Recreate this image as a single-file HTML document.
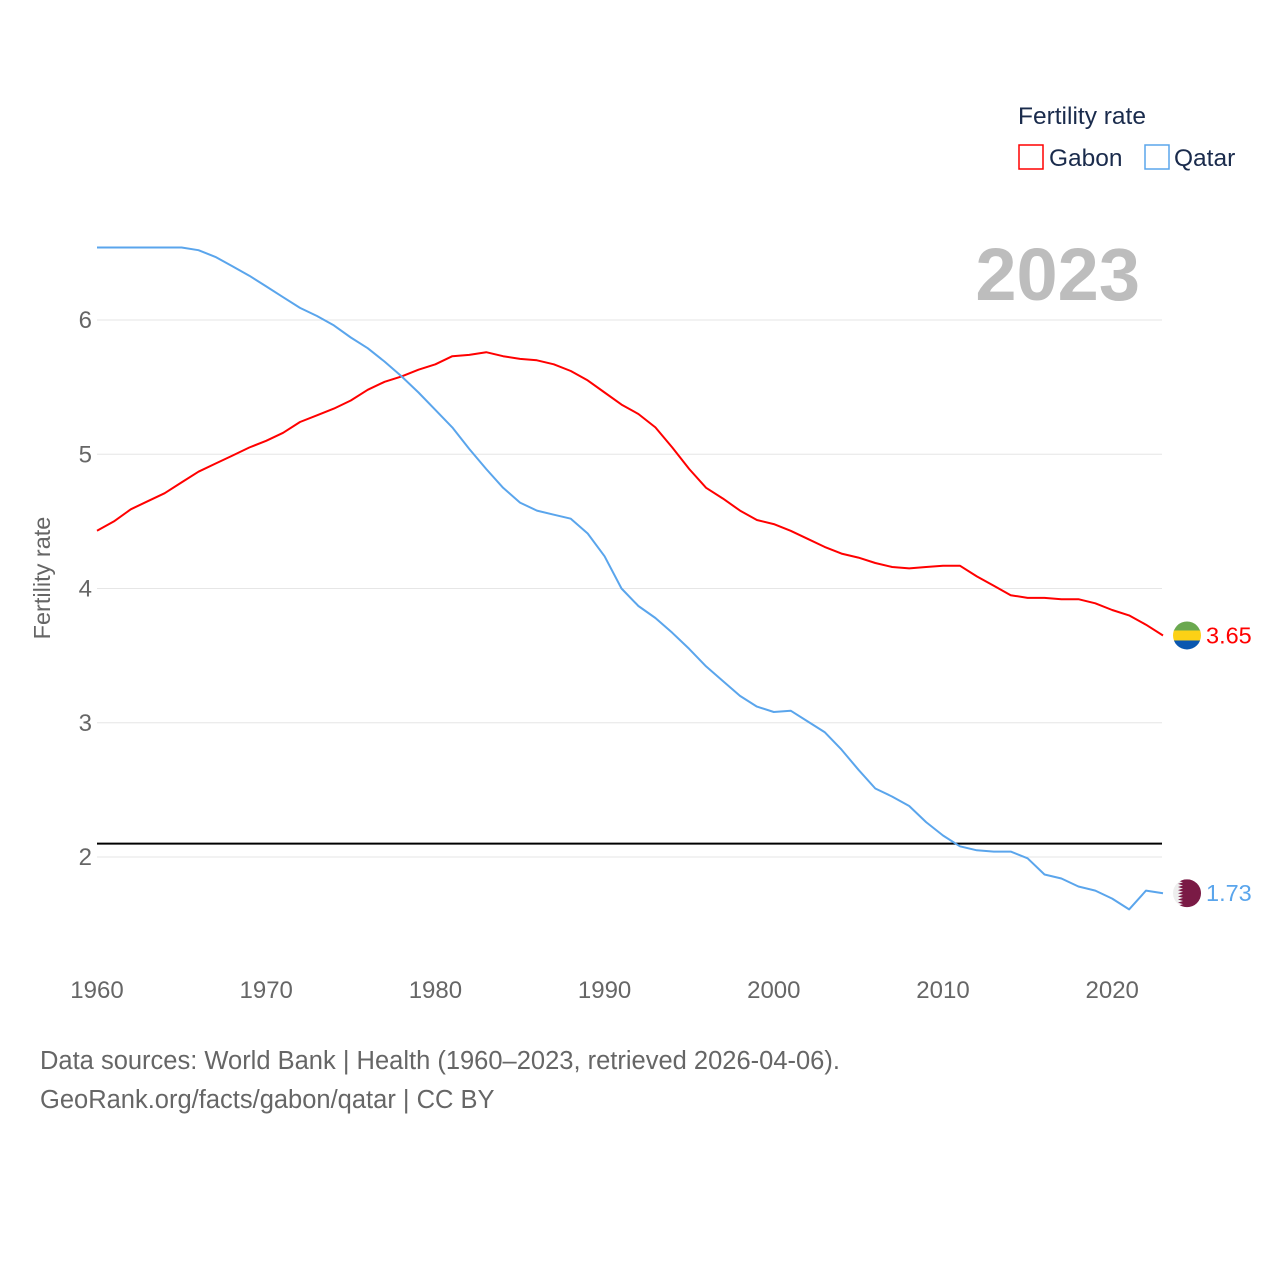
<!DOCTYPE html>
<html><head><meta charset="utf-8"><style>
body{margin:0;background:#fff;font-family:"Liberation Sans",sans-serif}
svg text{font-family:"Liberation Sans",sans-serif}
</style></head><body>
<svg id="chart" width="1280" height="1280" xmlns="http://www.w3.org/2000/svg">
<g id="grid"></g>
<text x="1140" y="300" text-anchor="end" font-size="74" font-weight="bold" fill="#bdbdbd">2023</text>
<text x="1018" y="124" font-size="24.5" fill="#1a2b4c">Fertility rate</text>
<g><rect x="1019" y="145" width="24" height="24" fill="none" stroke="#ff0000" stroke-width="1.5"/><text x="1049" y="166" font-size="24.5" fill="#1a2b4c">Gabon</text></g>
<g><rect x="1145" y="145" width="24" height="24" fill="none" stroke="#5aa5ec" stroke-width="1.5"/><text x="1174" y="166" font-size="24.5" fill="#1a2b4c">Qatar</text></g>
<text transform="translate(50,578) rotate(-90)" text-anchor="middle" font-size="23.5" fill="#666">Fertility rate</text>
<g id="series"></g>
<text x="40" y="1069" font-size="25.5" fill="#666">Data sources: World Bank | Health (1960–2023, retrieved 2026-04-06).</text>
<text x="40" y="1108" font-size="25.5" fill="#666">GeoRank.org/facts/gabon/qatar | CC BY</text>
</svg>
<script>
const years=[];for(let y=1960;y<=2023;y++)years.push(y);
const yTicks=[2,3,4,5,6];
const xTicks=[1960,1970,1980,1990,2000,2010,2020];
const refValue=2.1;
const gabon=[4.43,4.50,4.59,4.65,4.71,4.79,4.87,4.93,4.99,5.05,5.10,5.16,5.24,5.29,5.34,5.40,5.48,5.54,5.58,5.63,5.67,5.73,5.74,5.76,5.73,5.71,5.70,5.67,5.62,5.55,5.46,5.37,5.30,5.20,5.05,4.89,4.75,4.67,4.58,4.51,4.48,4.43,4.37,4.31,4.26,4.23,4.19,4.16,4.15,4.16,4.17,4.17,4.09,4.02,3.95,3.93,3.93,3.92,3.92,3.89,3.84,3.80,3.73,3.65];
const qatar=[6.54,6.54,6.54,6.54,6.54,6.54,6.52,6.47,6.40,6.33,6.25,6.17,6.09,6.03,5.96,5.87,5.79,5.69,5.58,5.46,5.33,5.20,5.04,4.89,4.75,4.64,4.58,4.55,4.52,4.41,4.24,4.00,3.87,3.78,3.67,3.55,3.42,3.31,3.20,3.12,3.08,3.09,3.01,2.93,2.80,2.65,2.51,2.45,2.38,2.26,2.16,2.08,2.05,2.04,2.04,1.99,1.87,1.84,1.78,1.75,1.69,1.61,1.75,1.73];
const X=y=>97+(y-1960)*16.92;
const Y=v=>857-(v-2)*134.25;
const NS='http://www.w3.org/2000/svg';
const grid=document.getElementById('grid'),series=document.getElementById('series');
function mk(tag,at,parent){const e=document.createElementNS(NS,tag);for(const k in at)e.setAttribute(k,at[k]);parent.appendChild(e);return e;}
yTicks.forEach(t=>{
 const l=mk('line',{x1:97,x2:1162,y1:Y(t),y2:Y(t),stroke:'#e6e6e6','stroke-width':1},grid);
 
 
 const tx=mk('text',{x:92,y:Y(t)+8,'text-anchor':'end','font-size':24,fill:'#666'},grid);tx.textContent=t;
 
 
});
xTicks.forEach(t=>{
 const tx=mk('text',{x:X(t),y:998,'text-anchor':'middle','font-size':24,fill:'#666'},grid);tx.textContent=t;
 
 
});
const ref=mk('line',{x1:97,x2:1162,y1:Y(refValue),y2:Y(refValue),stroke:'#000','stroke-width':2},series);


function line(d,c,name){const p=mk('path',{d:d.map((v,i)=>(i?'L':'M')+X(years[i]).toFixed(1)+','+Y(v).toFixed(1)).join(''),fill:'none',stroke:c,'stroke-width':2,'stroke-linejoin':'round'},series);
 
 }
line(gabon,'#ff0000','gabon-line');line(qatar,'#5aa5ec','qatar-line');
const gx=1187,gy=Y(gabon[gabon.length-1]),qy=Y(qatar[qatar.length-1]);
const defs=mk('defs',{},series);
const c1=mk('clipPath',{id:'cg'},defs);mk('circle',{cx:gx,cy:gy,r:14},c1);
const c2=mk('clipPath',{id:'cq'},defs);mk('circle',{cx:gx,cy:qy,r:14},c2);
const fg=mk('g',{'clip-path':'url(#cg)'},series);


mk('rect',{x:gx-14,y:gy-14,width:28,height:10,fill:'#6aa84f'},fg);
mk('rect',{x:gx-14,y:gy-5,width:28,height:10,fill:'#fcd116'},fg);
mk('rect',{x:gx-14,y:gy+5,width:28,height:10,fill:'#0a57b0'},fg);
const fq=mk('g',{'clip-path':'url(#cq)'},series);


mk('rect',{x:gx-14,y:qy-14,width:28,height:28,fill:'#eee'},fq);
let pts=[];for(let i=0;i<=9;i++){const yy=qy-14+i*28/9;pts.push((gx-4)+','+yy.toFixed(1));if(i<9)pts.push((gx-9)+','+(yy+14/9).toFixed(1));}
mk('polygon',{points:pts.join(' ')+' '+(gx+14)+','+(qy+14)+' '+(gx+14)+','+(qy-14),fill:'#7a1a45'},fq);
const lg=mk('text',{x:1206,y:gy+8,'font-size':23.5,fill:'#ff0000'},series);lg.textContent=gabon[gabon.length-1].toFixed(2);


const lq=mk('text',{x:1206,y:qy+8,'font-size':23.5,fill:'#5aa5ec'},series);lq.textContent=qatar[qatar.length-1].toFixed(2);


</script>
</body></html>
